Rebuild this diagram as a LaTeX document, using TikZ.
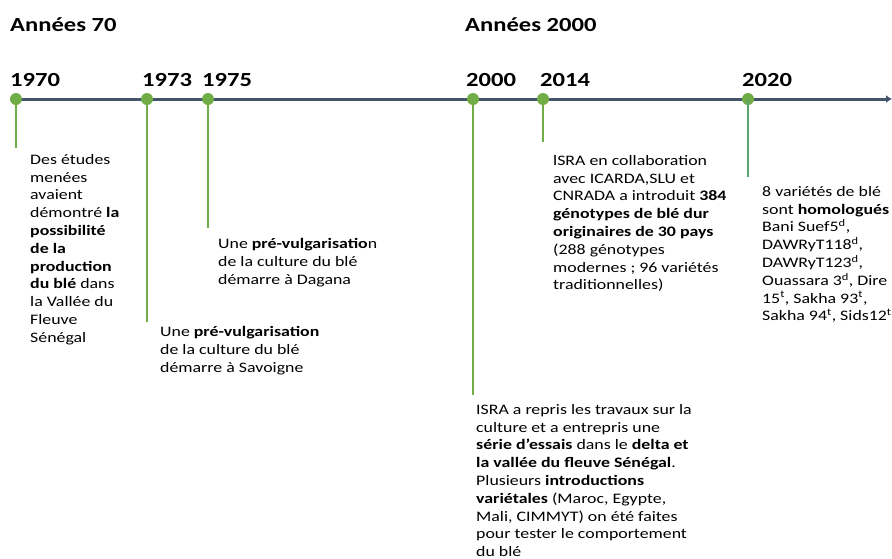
\documentclass[tikz,border=0pt]{standalone}
\usepackage{fontspec}
\setmainfont{Carlito}[FakeStretch=1.23]
\usepackage{tikz}
\usetikzlibrary{arrows.meta, positioning}

\definecolor{axe}{HTML}{44546A}
\definecolor{vert}{HTML}{70AD47}
\definecolor{vertfonce}{HTML}{5BA36B}

\begin{document}
\begin{tikzpicture}[x=1pt, y=-1pt,
  titre/.style={anchor=base west, inner sep=0pt, font=\fontsize{20}{24}\selectfont\bfseries},
  annee/.style={anchor=base west, inner sep=0pt, font=\fontsize{20}{24}\selectfont\bfseries},
  point/.style={circle, fill=vert, inner sep=0pt, minimum size=12pt},
  tige/.style={vert, line width=2pt},
  texte/.style={anchor=north west, inner sep=0pt, align=left, font=\fontsize{14.5}{17.8}\selectfont}]
% frise chronologique du blé
\useasboundingbox (0,0) rectangle (892,558);

\node[titre] (t70) at (10,31) {Années 70};
\node[titre] (t2000) at (465,31) {Années 2000};

\coordinate (debut) at (16,99);
\coordinate (fin) at (892,99);
\draw[axe, line width=3pt, -{Latex[length=6pt,width=8pt]}] (debut) -- (fin);

\node[annee] (a1970) at (10,86) {1970};
\node[annee] (a1973) at (142,86) {1973};
\node[annee] (a1975) at (202,86) {1975};
\node[annee] (a2000) at (466,86) {2000};
\node[annee] (a2014) at (540,86) {2014};
\node[annee] (a2020) at (742,86) {2020};

\node[point] (p1970) at (16,99) {};
\node[point] (p1973) at (147,99) {};
\node[point] (p1975) at (208,99) {};
\node[point] (p2000) at (473,99) {};
\node[point] (p2014) at (543,99) {};
\node[point] (p2020) at (748,99) {};

\coordinate (f1970) at (16,148);
\coordinate (f1973) at (147,322);
\coordinate (f1975) at (208,228);
\coordinate (f2000) at (473,395);
\coordinate (f2014) at (543,142);
\coordinate (f2020) at (748,177);

\draw[tige] (p1970.center) -- (f1970);
\draw[tige] (p1973.center) -- (f1973);
\draw[tige] (p1975.center) -- (f1975);
\draw[tige] (p2000.center) -- (f2000);
\draw[tige] (p2014.center) -- (f2014);
\draw[tige, vertfonce] (p2020.center) -- (f2020);

\node[texte] (x1970) at (30,154) {Des études\\menées\\avaient\\démontré \textbf{la}\\\textbf{possibilité}\\\textbf{de la}\\\textbf{production}\\\textbf{du blé} dans\\la Vallée du\\Fleuve\\Sénégal};
\node[texte] (x1975) at (218,238) {Une \textbf{pré-vulgarisatio}n\\de la culture du blé\\démarre à Dagana};
\node[texte] (x1973) at (160,326) {Une \textbf{pré-vulgarisation}\\de la culture du blé\\démarre à Savoigne};
\node[texte] (x2014) at (553,155) {lSRA en collaboration\\avec ICARDA,SLU et\\CNRADA a introduit \textbf{384}\\\textbf{génotypes de blé dur}\\\textbf{originaires de 30 pays}\\(288 génotypes\\modernes ; 96 variétés\\traditionnelles)};
\node[texte] (x2020) at (762,186) {8 variétés de blé\\sont \textbf{homologués}\\Bani Suef5\textsuperscript{d},\\DAWRyT118\textsuperscript{d},\\DAWRyT123\textsuperscript{d},\\Ouassara 3\textsuperscript{d}, Dire\\15\textsuperscript{t}, Sakha 93\textsuperscript{t},\\Sakha 94\textsuperscript{t}, Sids12\textsuperscript{t}};
\node[texte] (x2000) at (476,404) {ISRA a repris les travaux sur la\\culture et a entrepris une\\\textbf{série d’essais} dans le \textbf{delta et}\\\textbf{la vallée du fleuve Sénégal}.\\Plusieurs \textbf{introductions}\\\textbf{variétales} (Maroc, Egypte,\\Mali, CIMMYT) on été faites\\pour tester le comportement\\du blé};
\end{tikzpicture}
\end{document}
